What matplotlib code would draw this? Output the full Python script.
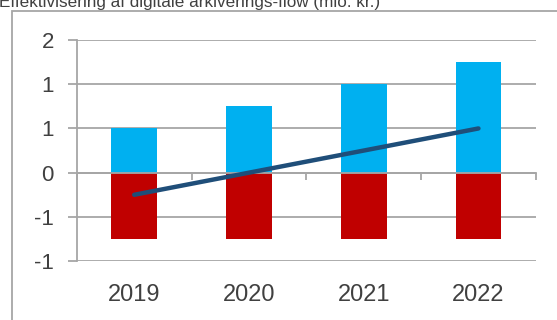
import matplotlib.pyplot as plt
from matplotlib.patches import Rectangle
import matplotlib.transforms as mtransforms

# -----------------------------
# Data (mio. kr.)
# -----------------------------
years = ["2019", "2020", "2021", "2022"]
gevinst = [0.5, 0.75, 1.0, 1.25]
omkostning = [-0.75, -0.75, -0.75, -0.75]
netto = [-0.25, 0.0, 0.25, 0.5]

y_ticks = [-1.0, -0.5, 0.0, 0.5, 1.0, 1.5]
y_labels = ["-1", "-1", "0", "1", "1", "2"]

title = "Effektivisering af digitale arkiverings-flow (mio. kr.)"

# -----------------------------
# Style
# -----------------------------
plt.rcParams['font.family'] = ['Liberation Sans', 'DejaVu Sans']
GRID = '#a6a6a6'
TEXT = '#404040'

fig = plt.figure(figsize=(5.57, 3.2), dpi=100)
ax = fig.add_axes([0.138, 0.184, 0.824, 0.691])

x = [i + 0.5 for i in range(len(years))]
ax.bar(x, gevinst, width=0.4, color='#00b0f0', zorder=1)
ax.bar(x, omkostning, width=0.4, color='#c00000', zorder=1)
ax.plot(x, netto, color='#1f4e79', lw=3.2, solid_capstyle='round', zorder=3)

ax.set_xlim(0, len(years))
ax.set_ylim(y_ticks[0], y_ticks[-1])
ax.set_yticks(y_ticks)
ax.set_yticklabels(y_labels)

ax.set_axisbelow(True)
ax.grid(axis='y', color=GRID, lw=1.3)
ax.grid(axis='x', visible=False)

for side in ['top', 'right']:
    ax.spines[side].set_visible(False)
ax.spines['left'].set_color(GRID)
ax.spines['left'].set_linewidth(1.3)
ax.spines['bottom'].set_position(('data', 0))
ax.spines['bottom'].set_color(GRID)
ax.spines['bottom'].set_linewidth(1.3)

ax.tick_params(axis='y', length=6.5, width=1.3, color=GRID, labelcolor=TEXT,
               labelsize=16, pad=10)
# category boundary ticks on the zero axis, labels placed under the plot
ax.set_xticks(range(len(years) + 1))
ax.set_xticklabels([])
ax.tick_params(axis='x', length=5, width=1.3, color=GRID)

trans = mtransforms.blended_transform_factory(ax.transData, fig.transFigure)
for xi, yr in zip(x, years):
    ax.text(xi, 1 - 295 / 320, yr, transform=trans, ha='center', va='center',
            fontsize=17, color=TEXT)

# chart frame and clipped title
fig.patches.append(Rectangle((12 / 557, -0.1), 1.2, 1 - 10.5 / 320 + 0.1,
                             transform=fig.transFigure, fill=False,
                             edgecolor=GRID, lw=1.3))
fig.text(-0.002, 1 - 7 / 320, title, ha='left', va='baseline', fontsize=12.3,
         color=TEXT)

fig.savefig('out.png', dpi=100)
